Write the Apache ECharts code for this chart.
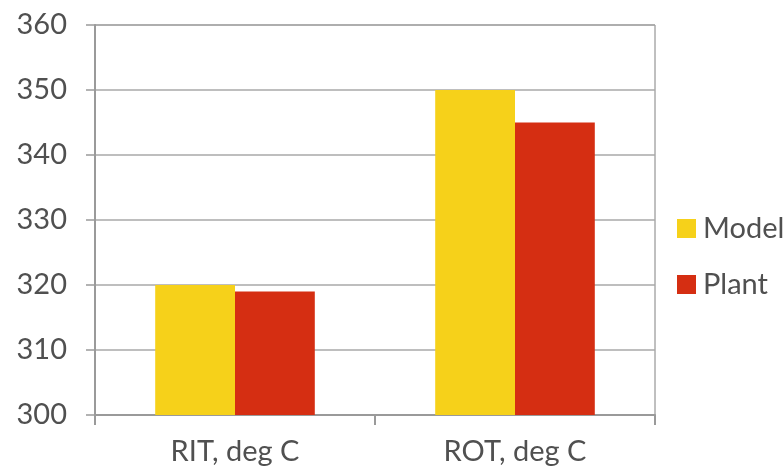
<!DOCTYPE html>
<html>
<head>
<meta charset="utf-8">
<script src="https://cdn.jsdelivr.net/npm/echarts@6/dist/echarts.min.js"></script>
<style>
  html, body { margin: 0; padding: 0; background: #fff; }
  #chart { width: 784px; height: 472px; }
</style>
</head>
<body>
<div id="chart"></div>
<script>
// Temperatures by stream, model vs. plant
const categories = ['RIT, deg C', 'ROT, deg C'];
const modelValues = [320, 350];
const plantValues = [319, 345];
const yMin = 300;
const yMax = 360;
const yStep = 10;

const textColor = '#505050';
const fontFamily = 'Lato, "Noto Sans", sans-serif';

const chart = echarts.init(document.getElementById('chart'));
chart.setOption({
  animation: false,
  backgroundColor: '#ffffff',
  grid: {
    left: 95, right: 129, top: 25, bottom: 57,
    show: true, borderColor: '#808080', borderWidth: 1
  },
  legend: {
    orient: 'vertical',
    left: 672, top: 209,
    itemWidth: 19, itemHeight: 19, itemGap: 27,
    icon: 'rect',
    textStyle: { color: textColor, fontSize: 29, fontFamily: fontFamily, padding: [0, 0, 0, 2] },
    data: ['Model', 'Plant']
  },
  xAxis: {
    type: 'category',
    data: categories,
    axisLine: { lineStyle: { color: '#9a9a9a', width: 2 } },
    axisTick: { show: true, length: 10, lineStyle: { color: '#9a9a9a', width: 2 } },
    axisLabel: { color: textColor, fontSize: 29, fontFamily: fontFamily, margin: 22 }
  },
  yAxis: {
    type: 'value',
    min: yMin, max: yMax, interval: yStep,
    axisLine: { show: true, lineStyle: { color: '#9a9a9a', width: 2 } },
    axisTick: { show: true, length: 9, lineStyle: { color: '#9a9a9a', width: 1.5 } },
    splitLine: { lineStyle: { color: '#a8a8a8', width: 1.5 } },
    axisLabel: { color: textColor, fontSize: 29, fontFamily: fontFamily, margin: 28 }
  },
  series: [
    {
      name: 'Model', type: 'bar', data: modelValues,
      barGap: '0%', barCategoryGap: '43%',
      itemStyle: { color: '#f6d11a' }
    },
    {
      name: 'Plant', type: 'bar', data: plantValues,
      itemStyle: { color: '#d52e12' }
    }
  ]
});
</script>
</body>
</html>
